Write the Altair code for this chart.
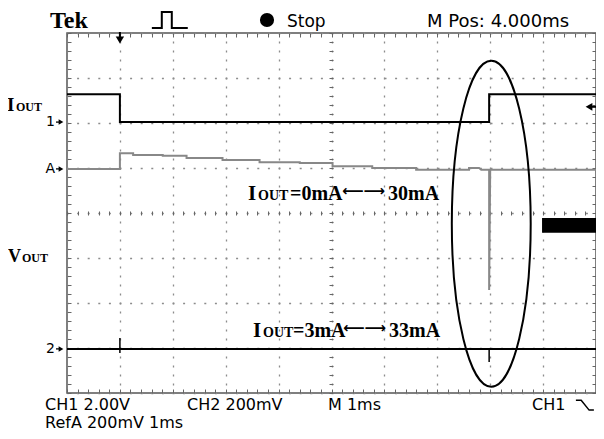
import altair as alt
import pandas as pd

# ---- data (time in ms, level in divisions) ----
ch1_t = [-1, 0, 0, 6.98, 6.98, 9]
ch1_v = [2.64, 2.64, 2.02, 2.02, 2.64, 2.64]

refa_t = [-1, 0, 0, 0.25, 0.25, 0.81, 0.81, 1.26, 1.26, 1.94, 1.94, 2.64, 2.64,
          3.40, 3.40, 4.02, 4.02, 4.77, 4.77, 5.60, 5.60, 6.60, 6.60, 6.79, 6.83,
          6.98, 6.98, 7.0, 9]
refa_v = [0.98, 0.98, 1.33, 1.33, 1.29, 1.29, 1.27, 1.27, 1.22, 1.22, 1.18, 1.18, 1.13,
          1.13, 1.11, 1.11, 1.04, 1.04, 1.00, 1.00, 0.96, 0.96, 1.00, 1.00, 0.96,
          0.96, -1.71, 0.96, 0.96]

ch2_t = [-1, 9]
ch2_v = [-3.02, -3.02]
glitch_t = [0, 6.98]
glitch_top = [-2.78, -3.02]
glitch_bot = [-3.11, -3.31]

marker_names = ["1", "A", "2"]
marker_levels = [2.02, 0.98, -3.02]
trigger_level = [2.36]

pulse_t = [0.604, 0.792, 0.792, 0.981, 0.981, 1.283]
pulse_v = [4.111, 4.111, 4.467, 4.467, 4.111, 4.111]

edge_t = [8.62, 8.72, 8.87, 8.96]
edge_v = [-4.16, -4.16, -4.38, -4.38]

ellipse_t = [7.02]
ellipse_v = [-0.24]
box_t = [7.98]
box_t2 = [9.13]
box_v = [-0.11]
box_v2 = [-0.44]

X = alt.Scale(domain=[-1, 9], nice=False, zero=False)
Y = alt.Scale(domain=[-4, 4], nice=False, zero=False)

ch1 = pd.DataFrame({"t": ch1_t, "v": ch1_v, "i": range(len(ch1_t))})
refa = pd.DataFrame({"t": refa_t, "v": refa_v, "i": range(len(refa_t))})
ch2 = pd.DataFrame({"t": ch2_t, "v": ch2_v})
glitch = pd.DataFrame({"t": glitch_t, "a": glitch_top, "b": glitch_bot})
markers = pd.DataFrame({"name": marker_names, "v": marker_levels})
pulse = pd.DataFrame({"t": pulse_t, "v": pulse_v, "i": range(len(pulse_t))})
edge = pd.DataFrame({"t": edge_t, "v": edge_v, "i": range(len(edge_t))})
ell = pd.DataFrame({"t": ellipse_t, "v": ellipse_v})
box = pd.DataFrame({"t": box_t, "t2": box_t2, "v": box_v, "v2": box_v2})
one = pd.DataFrame({"a": [0]})

GRAY = "#888888"
TICK = "#666666"


def frame_axis(orient, count, offset=-4, size=4):
    return alt.Axis(orient=orient, tickCount=count, tickSize=size, offset=offset,
                    domain=False, labels=False, grid=False, title=None,
                    tickColor=TICK, tickWidth=1)


def grid_axis(orient, count, dash):
    return alt.Axis(orient=orient, tickCount=count, ticks=False, domain=False,
                    labels=False, grid=True, gridColor="#8c8c8c", gridWidth=1.3,
                    gridDash=dash, gridDashOffset=1, title=None)


NOAX = dict(axis=None)

# traces with frame graticule ticks
l_ch1 = alt.Chart(ch1).mark_line(color="black", strokeWidth=2).encode(
    x=alt.X("t:Q", scale=X, axis=frame_axis("bottom", 50)),
    y=alt.Y("v:Q", scale=Y, axis=frame_axis("left", 40)),
    order="i:O")
l_ref = alt.Chart(refa).mark_line(color=GRAY, strokeWidth=2).encode(
    x=alt.X("t:Q", scale=X, axis=frame_axis("top", 50)),
    y=alt.Y("v:Q", scale=Y, axis=frame_axis("right", 40)),
    order="i:O")
l_ch2 = alt.Chart(ch2).mark_line(color="black", strokeWidth=2).encode(
    x=alt.X("t:Q", scale=X, axis=frame_axis("top", 50, offset=-182, size=4)),
    y=alt.Y("v:Q", scale=Y, axis=frame_axis("left", 40, offset=-266, size=4)))
l_glitch = alt.Chart(glitch).mark_rule(color="black", strokeWidth=1.5).encode(
    x=alt.X("t:Q", scale=X, axis=grid_axis("bottom", 10, [2, 7])),
    y=alt.Y("a:Q", scale=Y, axis=grid_axis("left", 8, [2, 8.6])),
    y2="b:Q")

# decorations
l_ell = alt.Chart(ell).mark_point(
    shape=("M0,-1 C0.1337,-1 0.242,-0.5523 0.242,0 C0.242,0.5523 0.1337,1 0,1 "
           "C-0.1337,1 -0.242,0.5523 -0.242,0 C-0.242,-0.5523 -0.1337,-1 0,-1 Z"),
    size=326 * 326, filled=False, color="black", strokeWidth=2, opacity=1).encode(
    x=alt.X("t:Q", scale=X, **NOAX), y=alt.Y("v:Q", scale=Y, **NOAX))
l_box = alt.Chart(box).mark_rect(color="black").encode(
    x=alt.X("t:Q", scale=X, **NOAX), x2="t2:Q",
    y=alt.Y("v:Q", scale=Y, **NOAX), y2="v2:Q")
l_pulse = alt.Chart(pulse).mark_line(color="black", strokeWidth=2).encode(
    x=alt.X("t:Q", scale=X, **NOAX), y=alt.Y("v:Q", scale=Y, **NOAX), order="i:O")
l_edge = alt.Chart(edge).mark_line(color="black", strokeWidth=1.5).encode(
    x=alt.X("t:Q", scale=X, **NOAX), y=alt.Y("v:Q", scale=Y, **NOAX), order="i:O")

l_mk_txt = alt.Chart(markers).mark_text(align="right", baseline="middle", font="DejaVu Sans",
                                        fontSize=14, color="black", dx=-1).encode(
    x=alt.value(-11), y=alt.Y("v:Q", scale=Y, **NOAX), text="name:N")
l_mk_tri = alt.Chart(markers).mark_point(shape="triangle-right", filled=True, size=30,
                                         color="black", opacity=1).encode(
    x=alt.value(-6), y=alt.Y("v:Q", scale=Y, **NOAX))
l_mk_stem = alt.Chart(markers).mark_rule(color="black", strokeWidth=1.3).encode(
    x=alt.value(-11), x2=alt.value(-6), y=alt.Y("v:Q", scale=Y, **NOAX))

l_trig = alt.Chart(one).mark_point(shape="triangle-down", filled=True, size=70,
                                   color="black", opacity=1).encode(
    x=alt.X("a:Q", scale=X, **NOAX), y=alt.value(7))
l_trig_stem = alt.Chart(one).mark_rule(color="black", strokeWidth=2).encode(
    x=alt.X("a:Q", scale=X, **NOAX), y=alt.value(-1), y2=alt.value(5))
lvl = pd.DataFrame({"v": trigger_level})
l_lvl = alt.Chart(lvl).mark_point(shape="triangle-left", filled=True, size=60,
                                  color="black", opacity=1).encode(
    x=alt.value(522), y=alt.Y("v:Q", scale=Y, **NOAX))
l_lvl_stem = alt.Chart(lvl).mark_rule(color="black", strokeWidth=2).encode(
    x=alt.value(524), x2=alt.value(535), y=alt.Y("v:Q", scale=Y, **NOAX))
l_dot = alt.Chart(one).mark_point(shape="circle", filled=True, size=200, color="black",
                                  opacity=1).encode(x=alt.value(200), y=alt.value(-13))


def txt(s, x, y, size, font="DejaVu Sans", weight="normal"):
    return alt.Chart(one).mark_text(text=s, align="left", baseline="alphabetic", font=font,
                                    fontSize=size, fontWeight=weight, color="black").encode(
        x=alt.value(x), y=alt.value(y))


SERIF = "Liberation Serif"
texts = [
    txt("Tek", -17, -5, 24, SERIF, "bold"),
    txt("Stop", 220, -6, 17),
    txt("M Pos: 4.000ms", 360, -6, 18),
    txt("CH1 2.00V", -22, 377, 16),
    txt("CH2 200mV", 120, 377, 16),
    txt("M 1ms", 261, 377, 16),
    txt("CH1", 465, 377, 16),
    txt("RefA 200mV 1ms", -22, 395, 16),
    txt("I", -60, 78, 19, SERIF, "bold"),
    txt("OUT", -51, 78, 12, SERIF, "bold"),
    txt("V", -59, 229, 18, SERIF, "bold"),
    txt("OUT", -45, 229, 12, SERIF, "bold"),
    # annotation row 1
    txt("I", 181, 167, 21, SERIF, "bold"),
    txt("OUT", 191, 167, 14, SERIF, "bold"),
    txt("=0mA", 223, 167, 20, SERIF, "bold"),
    txt("\u27f5\u27f6", 275, 163, 15, "DejaVu Sans", "bold"),
    txt("30mA", 321, 167, 20, SERIF, "bold"),
    # annotation row 2
    txt("I", 186, 304, 21, SERIF, "bold"),
    txt("OUT", 196, 304, 14, SERIF, "bold"),
    txt("=3mA", 226, 304, 20, SERIF, "bold"),
    txt("\u27f5\u27f6", 276, 300, 15, "DejaVu Sans", "bold"),
    txt("33mA", 322, 304, 20, SERIF, "bold"),
]

chart = alt.layer(
    l_glitch, l_ch2, l_ref, l_ch1, l_ell, l_box, l_pulse, l_edge,
    l_mk_txt, l_mk_tri, l_mk_stem, l_trig, l_trig_stem, l_lvl, l_lvl_stem, l_dot,
    *texts
).resolve_axis(x="independent", y="independent").properties(
    width=529, height=360,
    autosize=alt.AutoSizeParams(type="none"),
    padding={"left": 59, "top": 25, "right": 0, "bottom": 38},
    background="white",
).configure_view(stroke="#555555", strokeWidth=1.5)

chart.save("out.html", embed_options={"renderer": "svg", "actions": False})
